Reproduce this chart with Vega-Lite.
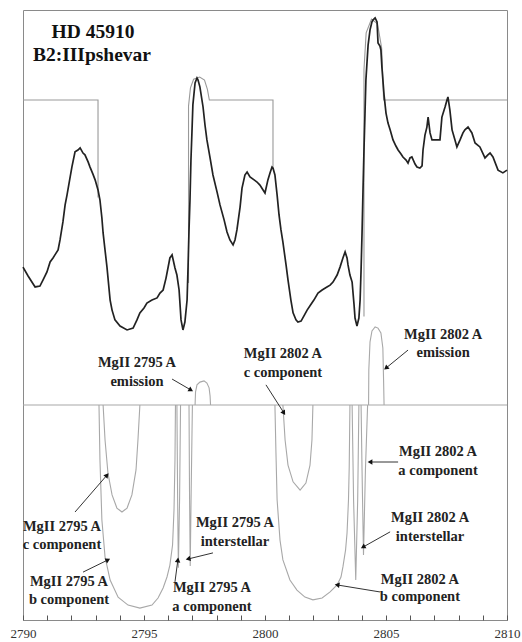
{
  "$schema": "https://vega.github.io/schema/vega-lite/v6.json",
  "width": 484,
  "height": 610,
  "autosize": {"type": "none"},
  "padding": {"left": 23, "top": 10, "right": 15, "bottom": 22},
  "background": "white",
  "config": {
    "view": {"stroke": "#8a8a8a", "strokeWidth": 1},
    "axis": {"grid": false}
  },
  "datasets": {
    "spectrum": [
      {"w":2790.00,"f":0.452},{"w":2790.21,"f":0.423},{"w":2790.50,"f":0.387},{"w":2790.70,"f":0.390},{"w":2790.83,"f":0.410},{"w":2790.99,"f":0.436},{"w":2791.12,"f":0.469},{"w":2791.24,"f":0.482},{"w":2791.32,"f":0.492},{"w":2791.45,"f":0.508},{"w":2791.53,"f":0.541},{"w":2791.65,"f":0.600},{"w":2791.74,"f":0.656},{"w":2791.82,"f":0.689},{"w":2791.94,"f":0.744},{"w":2792.02,"f":0.780},{"w":2792.15,"f":0.830},{"w":2792.27,"f":0.836},{"w":2792.36,"f":0.843},{"w":2792.48,"f":0.826},{"w":2792.56,"f":0.820},{"w":2792.69,"f":0.797},{"w":2792.77,"f":0.780},{"w":2792.89,"f":0.757},{"w":2792.98,"f":0.738},{"w":2793.10,"f":0.705},{"w":2793.18,"f":0.672},{"w":2793.26,"f":0.613},{"w":2793.31,"f":0.564},{"w":2793.39,"f":0.508},{"w":2793.47,"f":0.452},{"w":2793.60,"f":0.344},{"w":2793.68,"f":0.311},{"w":2793.80,"f":0.279},{"w":2794.01,"f":0.259},{"w":2794.30,"f":0.246},{"w":2794.55,"f":0.252},{"w":2794.71,"f":0.279},{"w":2794.83,"f":0.302},{"w":2795.00,"f":0.318},{"w":2795.12,"f":0.334},{"w":2795.33,"f":0.344},{"w":2795.54,"f":0.351},{"w":2795.66,"f":0.367},{"w":2795.79,"f":0.377},{"w":2795.91,"f":0.416},{"w":2796.07,"f":0.482},{"w":2796.16,"f":0.492},{"w":2796.28,"f":0.449},{"w":2796.36,"f":0.426},{"w":2796.45,"f":0.377},{"w":2796.53,"f":0.279},{"w":2796.61,"f":0.246},{"w":2796.69,"f":0.272},{"w":2796.78,"f":0.344},{"w":2796.82,"f":0.452},{"w":2796.86,"f":0.574},{"w":2796.90,"f":0.672},{"w":2796.94,"f":0.803},{"w":2796.98,"f":0.892},{"w":2797.02,"f":0.984},{"w":2797.11,"f":1.056},{"w":2797.19,"f":1.072},{"w":2797.23,"f":1.066},{"w":2797.31,"f":1.043},{"w":2797.44,"f":0.977},{"w":2797.52,"f":0.918},{"w":2797.60,"f":0.869},{"w":2797.73,"f":0.810},{"w":2797.85,"f":0.754},{"w":2798.02,"f":0.698},{"w":2798.14,"f":0.656},{"w":2798.31,"f":0.607},{"w":2798.43,"f":0.567},{"w":2798.55,"f":0.541},{"w":2798.68,"f":0.525},{"w":2798.76,"f":0.541},{"w":2798.84,"f":0.574},{"w":2798.97,"f":0.649},{"w":2799.05,"f":0.711},{"w":2799.17,"f":0.754},{"w":2799.26,"f":0.764},{"w":2799.38,"f":0.748},{"w":2799.55,"f":0.738},{"w":2799.67,"f":0.731},{"w":2799.79,"f":0.721},{"w":2799.92,"f":0.705},{"w":2800.00,"f":0.695},{"w":2800.12,"f":0.738},{"w":2800.21,"f":0.761},{"w":2800.29,"f":0.780},{"w":2800.33,"f":0.777},{"w":2800.41,"f":0.754},{"w":2800.50,"f":0.689},{"w":2800.58,"f":0.623},{"w":2800.66,"f":0.574},{"w":2800.74,"f":0.534},{"w":2800.87,"f":0.459},{"w":2800.95,"f":0.410},{"w":2801.07,"f":0.344},{"w":2801.16,"f":0.302},{"w":2801.28,"f":0.279},{"w":2801.36,"f":0.272},{"w":2801.49,"f":0.275},{"w":2801.61,"f":0.292},{"w":2801.74,"f":0.311},{"w":2801.86,"f":0.325},{"w":2802.02,"f":0.344},{"w":2802.19,"f":0.367},{"w":2802.36,"f":0.377},{"w":2802.56,"f":0.387},{"w":2802.69,"f":0.393},{"w":2802.81,"f":0.403},{"w":2802.98,"f":0.426},{"w":2803.10,"f":0.452},{"w":2803.22,"f":0.482},{"w":2803.31,"f":0.502},{"w":2803.39,"f":0.482},{"w":2803.43,"f":0.459},{"w":2803.51,"f":0.426},{"w":2803.60,"f":0.403},{"w":2803.68,"f":0.328},{"w":2803.72,"f":0.285},{"w":2803.80,"f":0.259},{"w":2803.88,"f":0.285},{"w":2803.93,"f":0.344},{"w":2803.97,"f":0.443},{"w":2804.01,"f":0.564},{"w":2804.05,"f":0.705},{"w":2804.09,"f":0.836},{"w":2804.13,"f":0.951},{"w":2804.17,"f":1.066},{"w":2804.26,"f":1.180},{"w":2804.34,"f":1.230},{"w":2804.42,"f":1.256},{"w":2804.46,"f":1.262},{"w":2804.55,"f":1.269},{"w":2804.63,"f":1.256},{"w":2804.67,"f":1.187},{"w":2804.75,"f":1.177},{"w":2804.79,"f":1.164},{"w":2804.83,"f":1.108},{"w":2804.92,"f":1.016},{"w":2805.00,"f":0.957},{"w":2805.08,"f":0.925},{"w":2805.17,"f":0.902},{"w":2805.29,"f":0.869},{"w":2805.41,"f":0.849},{"w":2805.50,"f":0.836},{"w":2805.62,"f":0.823},{"w":2805.70,"f":0.813},{"w":2805.83,"f":0.803},{"w":2805.91,"f":0.793},{"w":2805.99,"f":0.810},{"w":2806.07,"f":0.813},{"w":2806.20,"f":0.790},{"w":2806.28,"f":0.780},{"w":2806.40,"f":0.777},{"w":2806.49,"f":0.784},{"w":2806.53,"f":0.836},{"w":2806.61,"f":0.885},{"w":2806.69,"f":0.911},{"w":2806.74,"f":0.944},{"w":2806.78,"f":0.918},{"w":2806.82,"f":0.892},{"w":2806.90,"f":0.869},{"w":2807.07,"f":0.869},{"w":2807.23,"f":0.869},{"w":2807.31,"f":0.944},{"w":2807.44,"f":0.977},{"w":2807.52,"f":1.000},{"w":2807.56,"f":1.010},{"w":2807.64,"f":0.967},{"w":2807.73,"f":0.902},{"w":2807.85,"f":0.869},{"w":2807.93,"f":0.846},{"w":2808.06,"f":0.869},{"w":2808.18,"f":0.892},{"w":2808.26,"f":0.902},{"w":2808.39,"f":0.911},{"w":2808.55,"f":0.892},{"w":2808.68,"f":0.859},{"w":2808.88,"f":0.846},{"w":2809.09,"f":0.810},{"w":2809.21,"f":0.820},{"w":2809.30,"f":0.826},{"w":2809.42,"f":0.813},{"w":2809.63,"f":0.770},{"w":2809.83,"f":0.761},{"w":2810.00,"f":0.770}
    ],
    "model": [
      {"seg":"m1","w":2790.00,"f":1.0},{"seg":"m1","w":2793.10,"f":1.0},{"seg":"m1","w":2793.10,"f":0.68},
      {"seg":"m2","w":2796.84,"f":0.40},{"seg":"m2","w":2796.84,"f":0.98},{"seg":"m2","w":2796.92,"f":1.04},{"seg":"m2","w":2797.05,"f":1.068},{"seg":"m2","w":2797.30,"f":1.075},{"seg":"m2","w":2797.50,"f":1.065},{"seg":"m2","w":2797.62,"f":1.035},{"seg":"m2","w":2797.70,"f":1.0},{"seg":"m2","w":2800.33,"f":1.0},{"seg":"m2","w":2800.33,"f":0.78},
      {"seg":"m3","w":2804.09,"f":0.29},{"seg":"m3","w":2804.09,"f":1.10},{"seg":"m3","w":2804.18,"f":1.22},{"seg":"m3","w":2804.40,"f":1.265},{"seg":"m3","w":2804.65,"f":1.25},{"seg":"m3","w":2804.82,"f":1.17},{"seg":"m3","w":2804.88,"f":1.05},{"seg":"m3","w":2804.90,"f":1.0},{"seg":"m3","w":2810.00,"f":1.0}
    ],
    "components": [
      {"c":"base","w":2790.00,"f":0},{"c":"base","w":2810.00,"f":0},
      {"c":"c2795","w":2793.31,"f":0},{"c":"c2795","w":2793.39,"f":-0.115},{"c":"c2795","w":2793.51,"f":-0.223},{"c":"c2795","w":2793.68,"f":-0.295},{"c":"c2795","w":2793.88,"f":-0.338},{"c":"c2795","w":2794.09,"f":-0.351},{"c":"c2795","w":2794.30,"f":-0.338},{"c":"c2795","w":2794.50,"f":-0.295},{"c":"c2795","w":2794.67,"f":-0.213},{"c":"c2795","w":2794.75,"f":-0.115},{"c":"c2795","w":2794.83,"f":0},
      {"c":"b2795","w":2793.14,"f":0},{"c":"b2795","w":2793.18,"f":-0.180},{"c":"b2795","w":2793.26,"f":-0.377},{"c":"b2795","w":2793.39,"f":-0.498},{"c":"b2795","w":2793.60,"f":-0.574},{"c":"b2795","w":2793.93,"f":-0.630},{"c":"b2795","w":2794.34,"f":-0.656},{"c":"b2795","w":2794.83,"f":-0.666},{"c":"b2795","w":2795.33,"f":-0.656},{"c":"b2795","w":2795.58,"f":-0.633},{"c":"b2795","w":2795.79,"f":-0.600},{"c":"b2795","w":2795.95,"f":-0.564},{"c":"b2795","w":2796.07,"f":-0.525},{"c":"b2795","w":2796.18,"f":-0.459},{"c":"b2795","w":2796.24,"f":-0.344},{"c":"b2795","w":2796.28,"f":-0.180},{"c":"b2795","w":2796.30,"f":0},
      {"c":"a2795","w":2796.36,"f":0},{"c":"a2795","w":2796.39,"f":-0.311},{"c":"a2795","w":2796.42,"f":-0.534},{"c":"a2795","w":2796.47,"f":-0.311},{"c":"a2795","w":2796.51,"f":0},
      {"c":"i2795","w":2796.86,"f":0},{"c":"i2795","w":2796.88,"f":-0.279},{"c":"i2795","w":2796.91,"f":-0.528},{"c":"i2795","w":2796.95,"f":-0.279},{"c":"i2795","w":2797.00,"f":0},
      {"c":"e2795","w":2797.11,"f":0},{"c":"e2795","w":2797.13,"f":0.043},{"c":"e2795","w":2797.19,"f":0.066},{"c":"e2795","w":2797.31,"f":0.075},{"c":"e2795","w":2797.48,"f":0.079},{"c":"e2795","w":2797.60,"f":0.072},{"c":"e2795","w":2797.69,"f":0.056},{"c":"e2795","w":2797.73,"f":0.030},{"c":"e2795","w":2797.75,"f":0},
      {"c":"c2802","w":2800.74,"f":0},{"c":"c2802","w":2800.83,"f":-0.115},{"c":"c2802","w":2800.95,"f":-0.197},{"c":"c2802","w":2801.16,"f":-0.252},{"c":"c2802","w":2801.45,"f":-0.279},{"c":"c2802","w":2801.69,"f":-0.256},{"c":"c2802","w":2801.86,"f":-0.197},{"c":"c2802","w":2801.94,"f":-0.115},{"c":"c2802","w":2801.98,"f":0},
      {"c":"b2802","w":2800.41,"f":0},{"c":"b2802","w":2800.45,"f":-0.148},{"c":"b2802","w":2800.50,"f":-0.311},{"c":"b2802","w":2800.62,"f":-0.443},{"c":"b2802","w":2800.74,"f":-0.508},{"c":"b2802","w":2801.03,"f":-0.574},{"c":"b2802","w":2801.32,"f":-0.607},{"c":"b2802","w":2801.65,"f":-0.630},{"c":"b2802","w":2801.98,"f":-0.639},{"c":"b2802","w":2802.36,"f":-0.633},{"c":"b2802","w":2802.69,"f":-0.613},{"c":"b2802","w":2802.98,"f":-0.590},{"c":"b2802","w":2803.14,"f":-0.564},{"c":"b2802","w":2803.22,"f":-0.531},{"c":"b2802","w":2803.33,"f":-0.475},{"c":"b2802","w":2803.39,"f":-0.420},{"c":"b2802","w":2803.45,"f":-0.311},{"c":"b2802","w":2803.48,"f":-0.203},{"c":"b2802","w":2803.51,"f":0},
      {"c":"a2802","w":2803.60,"f":0},{"c":"a2802","w":2803.66,"f":-0.311},{"c":"a2802","w":2803.75,"f":-0.574},{"c":"a2802","w":2803.83,"f":-0.311},{"c":"a2802","w":2803.88,"f":0},
      {"c":"i2802","w":2803.97,"f":0},{"c":"i2802","w":2804.01,"f":-0.213},{"c":"i2802","w":2804.07,"f":-0.492},{"c":"i2802","w":2804.15,"f":-0.213},{"c":"i2802","w":2804.24,"f":0},
      {"c":"e2802","w":2804.28,"f":0},{"c":"e2802","w":2804.29,"f":0.115},{"c":"e2802","w":2804.34,"f":0.207},{"c":"e2802","w":2804.42,"f":0.243},{"c":"e2802","w":2804.55,"f":0.256},{"c":"e2802","w":2804.67,"f":0.252},{"c":"e2802","w":2804.79,"f":0.236},{"c":"e2802","w":2804.87,"f":0.187},{"c":"e2802","w":2804.90,"f":0.082},{"c":"e2802","w":2804.92,"f":0}
    ],
    "arrows": [
      {"w":2796.16,"f":0.085,"w2":2796.94,"f2":0.049},
      {"w":2800.04,"f":0.066,"w2":2800.78,"f2":-0.026},
      {"w":2805.91,"f":0.180,"w2":2805.00,"f2":0.121},
      {"w":2805.50,"f":-0.187,"w2":2804.34,"f2":-0.187},
      {"w":2805.17,"f":-0.416,"w2":2804.05,"f2":-0.466},
      {"w":2804.75,"f":-0.613,"w2":2802.98,"f2":-0.590},
      {"w":2792.15,"f":-0.351,"w2":2793.47,"f2":-0.230},
      {"w":2792.48,"f":-0.548,"w2":2793.51,"f2":-0.508},
      {"w":2796.28,"f":-0.580,"w2":2796.40,"f2":-0.508},
      {"w":2797.85,"f":-0.485,"w2":2796.82,"f2":-0.505}
    ],
    "labels": [
      {"w":2794.71,"f":0.138,"t":"MgII 2795 A"},{"w":2794.71,"f":0.075,"t":"emission"},
      {"w":2800.74,"f":0.167,"t":"MgII 2802 A"},{"w":2800.74,"f":0.105,"t":"c component"},
      {"w":2807.36,"f":0.230,"t":"MgII 2802 A"},{"w":2807.36,"f":0.170,"t":"emission"},
      {"w":2807.15,"f":-0.154,"t":"MgII 2802 A"},{"w":2807.15,"f":-0.216,"t":"a component"},
      {"w":2806.82,"f":-0.370,"t":"MgII 2802 A"},{"w":2806.82,"f":-0.433,"t":"interstellar"},
      {"w":2806.40,"f":-0.574,"t":"MgII 2802 A"},{"w":2806.40,"f":-0.630,"t":"b component"},
      {"w":2791.61,"f":-0.400,"t":"MgII 2795 A"},{"w":2791.61,"f":-0.459,"t":"c component"},
      {"w":2791.90,"f":-0.580,"t":"MgII 2795 A"},{"w":2791.90,"f":-0.639,"t":"b component"},
      {"w":2797.81,"f":-0.600,"t":"MgII 2795 A"},{"w":2797.81,"f":-0.662,"t":"a component"},
      {"w":2798.76,"f":-0.387,"t":"MgII 2795 A"},{"w":2798.76,"f":-0.449,"t":"interstellar"}
    ],
    "title": [
      {"w":2792.89,"f":1.223,"t":"HD 45910"},
      {"w":2792.85,"f":1.148,"t":"B2:IIIpshevar"}
    ]
  },
  "encoding": {
    "x": {
      "field": "w", "type": "quantitative",
      "scale": {"domain": [2790, 2810], "nice": false, "zero": false},
      "axis": {
        "title": null,
        "values": [2790,2791,2792,2793,2794,2795,2796,2797,2798,2799,2800,2801,2802,2803,2804,2805,2806,2807,2808,2809,2810],
        "labelExpr": "datum.value % 5 === 0 ? datum.label : ''",
        "format": "d",
        "domain": false,
        "tickSize": -5,
        "tickColor": "#555",
        "labelPadding": 12,
        "labelFont": "Liberation Serif",
        "labelFontSize": 13,
        "labelColor": "#333",
        "labelOverlap": false,
        "labelFlush": false
      }
    },
    "y": {
      "field": "f", "type": "quantitative",
      "scale": {"domain": [-0.705, 1.295], "nice": false, "zero": false},
      "axis": null
    }
  },
  "layer": [
    {
      "data": {"name": "components"},
      "mark": {"type": "line", "color": "#a8a8a8", "strokeWidth": 1.1},
      "encoding": {"detail": {"field": "c"}, "order": {"value": null}}
    },
    {
      "data": {"name": "model"},
      "mark": {"type": "line", "color": "#999999", "strokeWidth": 1.1},
      "encoding": {"detail": {"field": "seg"}, "order": {"value": null}}
    },
    {
      "data": {"name": "spectrum"},
      "mark": {"type": "line", "color": "#222222", "strokeWidth": 1.7},
      "encoding": {}
    },
    {
      "data": {"name": "arrows"},
      "mark": {"type": "rule", "color": "#333", "strokeWidth": 1},
      "encoding": {"x2": {"field": "w2"}, "y2": {"field": "f2"}}
    },
    {
      "data": {"name": "arrows"},
      "transform": [{"calculate": "atan2((datum.w2 - datum.w) * 24.2, (datum.f2 - datum.f) * 305) * 180 / PI", "as": "ang"}],
      "mark": {"type": "point", "shape": "triangle-up", "filled": true, "color": "#111", "size": 30, "opacity": 1},
      "encoding": {
        "x": {"field": "w2", "type": "quantitative"},
        "y": {"field": "f2", "type": "quantitative"},
        "angle": {"field": "ang", "type": "quantitative", "scale": null}
      }
    },
    {
      "data": {"name": "labels"},
      "mark": {"type": "text", "font": "Liberation Serif", "fontSize": 14.5, "fontWeight": "bold", "color": "#222", "baseline": "middle", "align": "center"},
      "encoding": {"text": {"field": "t"}}
    },
    {
      "data": {"name": "title"},
      "mark": {"type": "text", "font": "Liberation Serif", "fontSize": 19.5, "fontWeight": "bold", "color": "#111", "baseline": "middle", "align": "center"},
      "encoding": {"text": {"field": "t"}}
    }
  ]
}
